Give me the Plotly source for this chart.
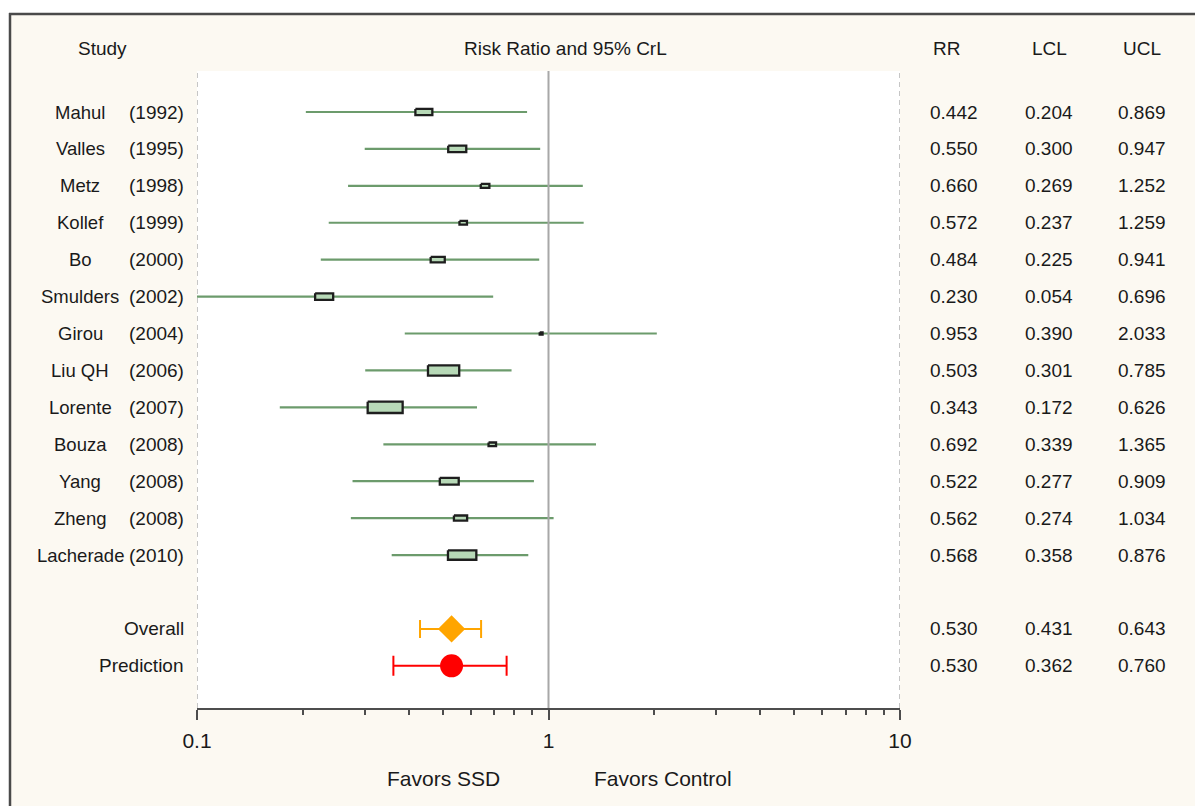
import plotly.graph_objects as go

# ---------------- data ----------------
studies = ["Mahul", "Valles", "Metz", "Kollef", "Bo", "Smulders", "Girou",
           "Liu QH", "Lorente", "Bouza", "Yang", "Zheng", "Lacherade"]
years = ["(1992)", "(1995)", "(1998)", "(1999)", "(2000)", "(2002)", "(2004)",
         "(2006)", "(2007)", "(2008)", "(2008)", "(2008)", "(2010)"]
rr = [0.442, 0.550, 0.660, 0.572, 0.484, 0.230, 0.953, 0.503, 0.343, 0.692, 0.522, 0.562, 0.568]
lcl = [0.204, 0.300, 0.269, 0.237, 0.225, 0.054, 0.390, 0.301, 0.172, 0.339, 0.277, 0.274, 0.358]
ucl = [0.869, 0.947, 1.252, 1.259, 0.941, 0.696, 2.033, 0.785, 0.626, 1.365, 0.909, 1.034, 0.876]
weight_pct = [7.7, 8.2, 3.9, 3.4, 6.4, 8.2, 1.3, 14.2, 15.9, 3.4, 8.6, 6.0, 12.9]

summary_labels = ["Overall", "Prediction"]
summary_rr = [0.530, 0.530]
summary_lcl = [0.431, 0.362]
summary_ucl = [0.643, 0.760]

x_tickvals = [0.1, 1, 10]
x_ticktext = ["0.1", "1", "10"]
x_minor = [0.2, 0.3, 0.4, 0.5, 0.6, 0.7, 0.8, 0.9, 2, 3, 4, 5, 6, 7, 8, 9]

# ---------------- layout helpers ----------------
W, H = 1195, 806
PLOT_L, PLOT_R, PLOT_T, PLOT_B = 197, 900, 71, 708
def px(x):
    return x / W
def py(y):
    return 1 - y / H

study_rows = list(range(1, len(studies) + 1))
summary_rows = [len(studies) + 2, len(studies) + 3]
y_range = [17.143, -0.1105]
x_log_range = [-1, 1]

px_per_decade = (PLOT_R - PLOT_L) / (x_log_range[1] - x_log_range[0])
px_per_row = (PLOT_B - PLOT_T) / (y_range[0] - y_range[1])

FONT = "Liberation Sans, Arial, sans-serif"
FS = 19
FS_NAME = 18.5
FS_AX = 21
TXT = "#1a1a1a"
LINE_GREEN = "#6c9b6c"
BOX_FILL = "#b7d9b7"

fig = go.Figure()

# CI lines for studies
cx, cy = [], []
for r, lo, hi in zip(study_rows, lcl, ucl):
    cx += [lo, hi, None]
    cy += [r, r, None]
fig.add_trace(go.Scatter(x=cx, y=cy, mode="lines",
                         line=dict(color=LINE_GREEN, width=2.2), hoverinfo="skip",
                         showlegend=False))

# weight boxes (size proportional to study weight)
bx, by = [], []
for r, v, w in zip(study_rows, rr, weight_pct):
    bw = w * 2.2
    bh = 0.28 * bw + 1.5
    f = 10 ** (bw / 2 / px_per_decade)
    dy = bh / 2 / px_per_row
    x0, x1 = v / f, v * f
    bx += [x0, x1, x1, x0, x0, None]
    by += [r - dy, r - dy, r + dy, r + dy, r - dy, None]
fig.add_trace(go.Scatter(x=bx, y=by, mode="lines", fill="toself", fillcolor=BOX_FILL,
                         line=dict(color="#1e1e1e", width=2.3), hoverinfo="skip",
                         showlegend=False))

# reference line at 1 and dashed borders
fig.add_trace(go.Scatter(x=[1, 1], y=y_range, mode="lines",
                         line=dict(color="#a8a8a8", width=2), hoverinfo="skip",
                         showlegend=False))
for xv in [x_tickvals[0], x_tickvals[-1]]:
    fig.add_trace(go.Scatter(x=[xv, xv], y=y_range, mode="lines",
                             line=dict(color="#a0a0a0", width=1.2, dash="5px,4px"),
                             hoverinfo="skip", showlegend=False, cliponaxis=False))

# Overall
fig.add_trace(go.Scatter(
    x=[summary_rr[0]], y=[summary_rows[0]], mode="markers",
    marker=dict(symbol="diamond", size=21, color="#ffa500", line=dict(width=0)),
    error_x=dict(type="data", symmetric=False,
                 array=[summary_ucl[0] - summary_rr[0]],
                 arrayminus=[summary_rr[0] - summary_lcl[0]],
                 color="#ffa500", thickness=2, width=9),
    showlegend=False))
# Prediction
fig.add_trace(go.Scatter(
    x=[summary_rr[1]], y=[summary_rows[1]], mode="markers",
    marker=dict(symbol="circle", size=23, color="#ff0000", line=dict(width=0)),
    error_x=dict(type="data", symmetric=False,
                 array=[summary_ucl[1] - summary_rr[1]],
                 arrayminus=[summary_rr[1] - summary_lcl[1]],
                 color="#ff0000", thickness=2, width=10),
    showlegend=False))

shapes = []
# outside white strips + frame
shapes.append(dict(type="rect", xref="paper", yref="paper", x0=0, x1=px(9), y0=0, y1=1,
                   fillcolor="white", line=dict(width=0), layer="below"))
shapes.append(dict(type="rect", xref="paper", yref="paper", x0=0, x1=1, y0=py(13), y1=1,
                   fillcolor="white", line=dict(width=0), layer="below"))
shapes.append(dict(type="line", xref="paper", yref="paper", x0=px(10), x1=px(10), y0=0, y1=py(13),
                   line=dict(color="#4a4a4a", width=2.5)))
shapes.append(dict(type="line", xref="paper", yref="paper", x0=px(9), x1=1, y0=py(14), y1=py(14),
                   line=dict(color="#4a4a4a", width=2.5)))

annotations = []
def ann(text, x, y, xanchor="center", yref="paper", size=FS):
    annotations.append(dict(text=text, x=x, y=y, xref="paper", yref=yref,
                            xanchor=xanchor, yanchor="middle", showarrow=False,
                            font=dict(family=FONT, size=size, color=TXT)))

# headers
ann("Study", px(102), py(49))
ann("Risk Ratio and 95% CrL", px(565), py(49))
ann("RR", px(946), py(49))
ann("LCL", px(1049), py(49))
ann("UCL", px(1142), py(49))

# rows
for r, name, yr, v, lo, hi in zip(study_rows, studies, years, rr, lcl, ucl):
    ann(name, px(80), r, "center", "y", size=FS_NAME)
    ann(yr, px(186), r, "right", "y")
    ann(f"{v:.3f}", px(954), r, "center", "y")
    ann(f"{lo:.3f}", px(1049), r, "center", "y")
    ann(f"{hi:.3f}", px(1142), r, "center", "y")
for r, name, v, lo, hi in zip(summary_rows, summary_labels, summary_rr, summary_lcl, summary_ucl):
    ann(name, px(186), r, "right", "y")
    ann(f"{v:.3f}", px(954), r, "center", "y")
    ann(f"{lo:.3f}", px(1049), r, "center", "y")
    ann(f"{hi:.3f}", px(1142), r, "center", "y")

ann("Favors SSD", px(443), py(778), size=FS_AX)
ann("Favors Control", px(663), py(778), size=FS_AX)

fig.update_layout(
    template="none",
    width=W, height=H,
    margin=dict(l=0, r=0, t=0, b=0, pad=0, autoexpand=False),
    paper_bgcolor="#fcf9f2",
    plot_bgcolor="white",
    showlegend=False,
    shapes=shapes,
    annotations=annotations,
    xaxis=dict(type="log", range=x_log_range, domain=[px(PLOT_L), px(PLOT_R)],
               automargin=False,
               showgrid=False, zeroline=False,
               showline=True, linecolor="#4d4d4d", linewidth=2,
               ticks="outside", ticklen=10, tickwidth=1.5, tickcolor="#4d4d4d",
               tickvals=x_tickvals, ticktext=x_ticktext, ticklabelstandoff=3,
               tickfont=dict(family=FONT, size=FS_AX, color=TXT),
               minor=dict(ticks="outside", ticklen=5, tickwidth=1.5, tickcolor="#4d4d4d",
                          tickmode="array", tickvals=x_minor, showgrid=False)),
    yaxis=dict(range=y_range, domain=[py(PLOT_B), py(PLOT_T)], visible=False,
               automargin=False, showgrid=False, zeroline=False),
)

fig.write_html("out.html",
               config={"displayModeBar": False},
               post_script="document.body.style.margin='0';"
                           "document.body.style.overflow='hidden';"
                           "document.documentElement.style.overflow='hidden';")
